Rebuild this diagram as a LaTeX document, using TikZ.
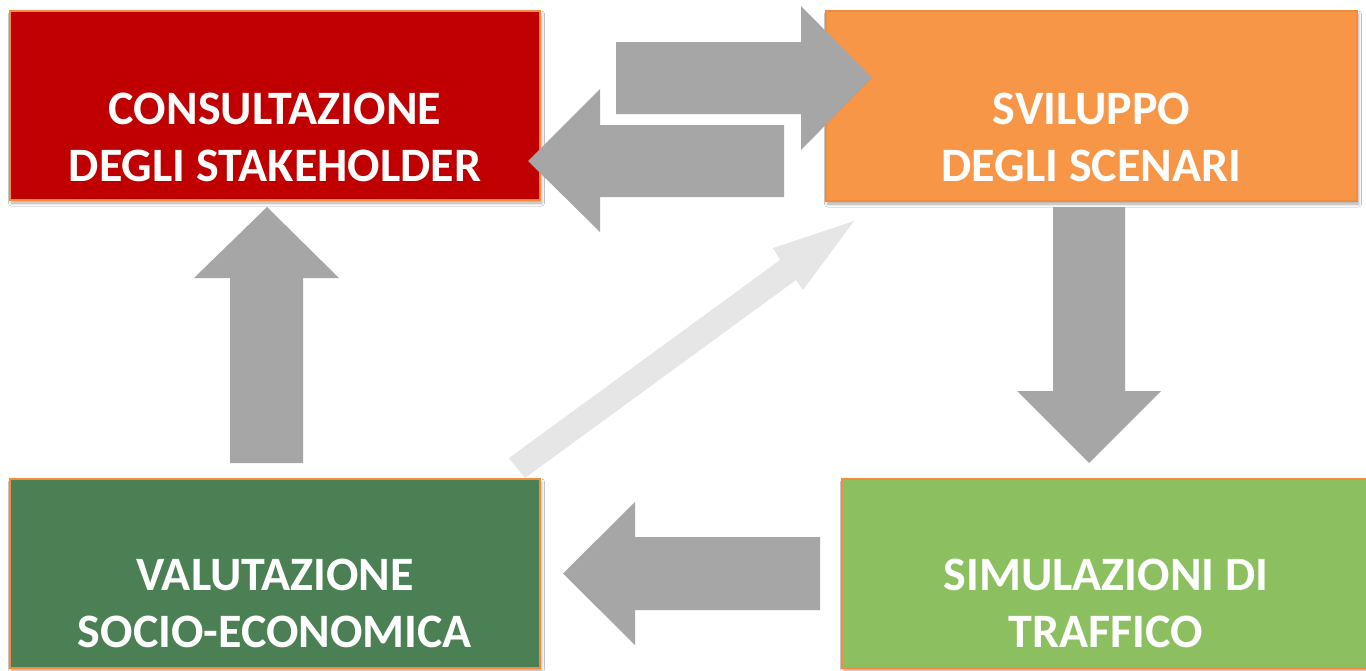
\documentclass[tikz,border=0pt]{standalone}
\usepackage{fontspec}
\setmainfont{Carlito}
\usetikzlibrary{shadows.blur}
\definecolor{cRed}{HTML}{C00000}
\definecolor{cOrange}{HTML}{F79646}
\definecolor{cEdge}{HTML}{F58B3C}
\definecolor{cDkGreen}{HTML}{4A8054}
\definecolor{cLtGreen}{HTML}{8BBF5F}
\definecolor{cArrow}{HTML}{A6A6A6}
\definecolor{cFaint}{HTML}{E6E6E6}
\tikzset{
  box/.style={rectangle, draw=cEdge, line width=1.5pt, inner sep=0pt,
    blur shadow={shadow xshift=1.5pt, shadow yshift=-3pt, shadow blur steps=6,
      shadow blur radius=3pt, shadow opacity=35}},
  lbl/.style={text=white, font=\bfseries\fontsize{48}{57}\selectfont, anchor=base, inner sep=0pt},
  blockarrow/.style={fill=cArrow, draw=none},
  faintarrow/.style={fill=cFaint, draw=none}
}
\begin{document}
\begin{tikzpicture}[x=1pt, y=-1pt]
\useasboundingbox (0,0) rectangle (1366,670);
\fill[white] (0,0) rectangle (1366,670);

% boxes
\node[box, fill=cRed, minimum width=530pt, minimum height=189pt] (cons) at (275,105.5) {};
\node[box, fill=cOrange, minimum width=531pt, minimum height=190pt] (svil) at (1091.5,106) {};
\node[box, fill=cDkGreen, minimum width=530pt, minimum height=189pt] (valu) at (275,573.5) {};
\node[box, fill=cLtGreen, minimum width=528pt, minimum height=189pt] (simu) at (1106,573.5) {};

% labels
\node[lbl] (consA) at (275,124) {CONSULTAZIONE};
\node[lbl] (consB) at (275,181) {DEGLI STAKEHOLDER};
\node[lbl] (svilA) at (1091.5,124) {SVILUPPO};
\node[lbl] (svilB) at (1091.5,181) {DEGLI SCENARI};
\node[lbl] (valuA) at (275,590) {VALUTAZIONE};
\node[lbl] (valuB) at (275,647) {SOCIO-ECONOMICA};
\node[lbl] (simuA) at (1106,590) {SIMULAZIONI DI};
\node[lbl] (simuB) at (1106,647) {TRAFFICO};

% block arrows
\fill[blockarrow] (616,42) -- (801,42) -- (801,6) -- (872,78) -- (801,150) -- (801,114) -- (616,114) -- cycle;
\fill[blockarrow] (784,125) -- (600,125) -- (600,89) -- (528,161) -- (600,232) -- (600,197) -- (784,197) -- cycle;
\fill[blockarrow] (1053,207) -- (1125,207) -- (1125,391) -- (1161,391) -- (1089,463) -- (1017,391) -- (1053,391) -- cycle;
\fill[blockarrow] (820,537) -- (635,537) -- (635,502) -- (563,573.5) -- (635,645) -- (635,610) -- (820,610) -- cycle;
\fill[blockarrow] (230,463) -- (230,278) -- (194,278) -- (267,207) -- (339,278) -- (303,278) -- (303,463) -- cycle;
\fill[faintarrow] (525,478) -- (796,280) -- (803,290) -- (854,221) -- (773,248) -- (780,260) -- (509,458) -- cycle;
\end{tikzpicture}
\end{document}
